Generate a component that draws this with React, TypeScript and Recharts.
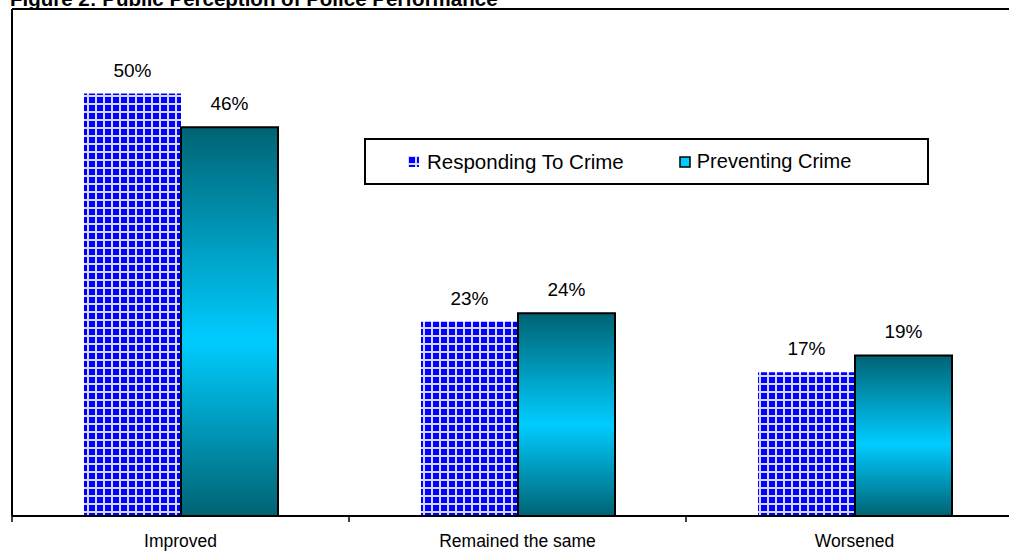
import { Bar, BarChart, LabelList, ReferenceLine, XAxis, YAxis } from "recharts"

const categories = ["Improved", "Remained the same", "Worsened"]
const responding = [50, 23, 17]
const preventing = [46, 24, 19]

const data = categories.map((name, i) => ({
  name,
  responding: responding[i],
  preventing: preventing[i],
}))

const FONT = "'Liberation Sans', Arial, sans-serif"

const pct = (v: any) => `${v}%`

// category label plus a tick mark on the left edge of each band
function CategoryTick(props: any) {
  const { x, y, payload } = props
  const half = payload?.offset ?? 0
  return (
    <g>
      <line x1={x - half} x2={x - half} y1={y} y2={y + 6} stroke="#000" strokeWidth={1.5} />
      <text
        x={x}
        y={y + 31}
        textAnchor="middle"
        fontSize={17.5}
        fontFamily={FONT}
        fill="#000"
      >
        {payload.value}
      </text>
    </g>
  )
}

function LegendBox() {
  return (
    <div
      style={{
        position: "absolute",
        left: 364,
        top: 138,
        boxSizing: "border-box",
        width: 565,
        height: 47,
        border: "2px solid #000",
        background: "#fff",
        display: "flex",
        alignItems: "center",
        fontFamily: FONT,
        fontSize: 20.5,
        color: "#000",
      }}
    >
      <svg width={11} height={11} style={{ marginLeft: 42, marginRight: 8 }}>
        <rect width={11} height={11} fill="url(#bluegrid)" />
      </svg>
      <span>Responding To Crime</span>
      <svg width={12} height={12} style={{ marginLeft: 55, marginRight: 6 }}>
        <rect x={1} y={1} width={10} height={10} fill="#00ccff" stroke="#000" strokeWidth={1.5} />
      </svg>
      <span style={{ fontSize: 20 }}>Preventing Crime</span>
    </div>
  )
}

export default function App() {
  return (
    <div
      style={{
        position: "fixed",
        left: 0,
        top: 0,
        width: 1009,
        height: 556,
        overflow: "hidden",
        background: "#fff",
      }}
    >
      <BarChart
        width={1023}
        height={556}
        data={data}
        margin={{ top: 9, right: 0, left: 11, bottom: 0 }}
        barGap={0}
      >
        <defs>
          <pattern id="bluegrid" width={8} height={8} patternUnits="userSpaceOnUse">
            <rect width={8} height={8} fill="#d8d8ff" />
            <rect x={1} y={1} width={6} height={6} fill="#0000ff" />
          </pattern>
          <linearGradient id="tealGrad" x1="0" y1="0" x2="0" y2="1">
            <stop offset="0%" stopColor="#006373" />
            <stop offset="55%" stopColor="#00ccff" />
            <stop offset="100%" stopColor="#006373" />
          </linearGradient>
        </defs>
        <XAxis
          dataKey="name"
          height={40}
          axisLine={{ stroke: "#000", strokeWidth: 2 }}
          tickLine={false}
          tickSize={0}
          tickMargin={0}
          tick={<CategoryTick />}
        />
        <YAxis
          domain={[0, 60]}
          width={1}
          tick={false}
          tickLine={false}
          axisLine={{ stroke: "#000", strokeWidth: 2 }}
        />
        <ReferenceLine y={60} stroke="#000" strokeWidth={2} />
        <Bar
          dataKey="responding"
          name="Responding To Crime"
          barSize={97}
          fill="url(#bluegrid)"
          isAnimationActive={false}
        >
          <LabelList
            dataKey="responding"
            position="top"
            offset={17}
            formatter={pct}
            style={{ fontSize: 19, fill: "#000", fontFamily: FONT }}
          />
        </Bar>
        <Bar
          dataKey="preventing"
          name="Preventing Crime"
          barSize={97}
          fill="url(#tealGrad)"
          stroke="#000"
          strokeWidth={2}
          isAnimationActive={false}
        >
          <LabelList
            dataKey="preventing"
            position="top"
            offset={17}
            formatter={pct}
            style={{ fontSize: 19, fill: "#000", fontFamily: FONT }}
          />
        </Bar>
      </BarChart>
      <LegendBox />
      <svg width={1009} height={20} style={{ position: "absolute", left: 0, top: 0 }}>
        <text x={10} y={6} fontSize={20.5} fontWeight="bold" fontFamily={FONT} fill="#000">
          Figure 2: Public Perception of Police Performance
        </text>
      </svg>
    </div>
  )
}
